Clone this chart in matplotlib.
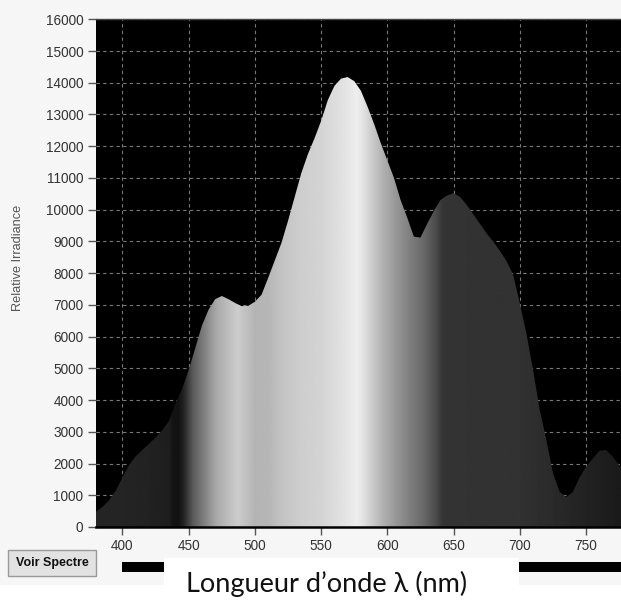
import numpy as np
import matplotlib
matplotlib.use('Agg')
import matplotlib.pyplot as plt
from matplotlib.patches import Rectangle, Polygon

plt.rcParams['font.family'] = ['Liberation Sans', 'DejaVu Sans']

# ---- data ----
wavelength = [380, 385, 390, 395, 400, 405, 410, 415, 420, 425, 430, 435, 440, 445,
              450, 455, 460, 465, 470, 475, 480, 485, 490, 495, 500, 505, 510, 515,
              520, 525, 530, 535, 540, 545, 550, 555, 560, 565, 570, 575, 580, 585,
              590, 595, 600, 605, 610, 615, 620, 625, 630, 635, 640, 645, 650, 655,
              660, 665, 670, 675, 680, 685, 690, 695, 700, 705, 710, 715, 720, 725,
              730, 735, 740, 745, 750, 755, 760, 765, 770, 775, 777]
irradiance = [480, 640, 850, 1150, 1560, 1950, 2230, 2430, 2620, 2820, 3050, 3330, 3900, 4350,
              4950, 5650, 6350, 6850, 7180, 7280, 7180, 7060, 6960, 6970, 7100, 7320, 7850, 8400,
              8950, 9650, 10400, 11150, 11750, 12250, 12800, 13450, 13900, 14130, 14180, 14050, 13750, 13250,
              12700, 12100, 11550, 11000, 10300, 9750, 9150, 9120, 9550, 9950, 10300, 10450, 10520, 10400,
              10150, 9850, 9550, 9250, 8990, 8700, 8380, 7950, 7050, 6100, 4950, 3700, 2750, 1700,
              1120, 940, 1100, 1550, 1900, 2150, 2400, 2430, 2230, 1950, 1850]

x_ticks = [400, 450, 500, 550, 600, 650, 700, 750]
y_ticks = list(range(0, 16001, 1000))

# grey shading of the spectrum fill, by wavelength
shade_wl = [380, 400, 420, 435, 438, 442, 446, 453, 462, 471, 480, 487, 492, 500, 510,
            520, 534, 550, 562, 572, 577, 581, 586, 597, 612, 627, 637, 642, 650, 700,
            720, 750, 777]
shade_gray = [38, 36, 34, 30, 20, 18, 35, 90, 130, 170, 190, 205, 195, 180, 182,
              195, 205, 212, 222, 232, 238, 228, 212, 176, 138, 106, 74, 52, 51, 50,
              44, 34, 26]

W, H = 621, 602
fig = plt.figure(figsize=(W / 100, H / 100), dpi=100)
fig.patch.set_facecolor('white')


def fx(x):
    return x / W


def fy(y):
    return 1 - y / H


# grey screen-capture background
fig.patches.append(Rectangle((0, fy(585)), 1, 1 - fy(585), transform=fig.transFigure,
                             facecolor='#f6f6f6', edgecolor='none', zorder=-5))

ax = fig.add_axes([fx(96), fy(527), 1 - fx(96), fy(19.3) - fy(527)])
ax.set_zorder(2)
ax.set_facecolor('black')

poly = ax.fill_between(wavelength, irradiance, 0, facecolor='none', edgecolor='none', zorder=2)
verts = poly.get_paths()[0].vertices
clip = Polygon(verts, closed=True, transform=ax.transData, facecolor='none', edgecolor='none')
ax.add_patch(clip)

fine = np.arange(wavelength[0], wavelength[-1] + 0.25, 0.5)
g = np.interp(fine, shade_wl, shade_gray)
img = ax.imshow(g[np.newaxis, :], cmap='gray', vmin=0, vmax=255,
                extent=[fine[0], fine[-1], 0, 16000], aspect='auto',
                interpolation='bilinear', zorder=2)
img.set_clip_path(clip)

ax.set_xlim(380, 776.4)
ax.set_ylim(0, 16000)
ax.set_xticks(x_ticks)
ax.set_yticks(y_ticks)
ax.grid(True, color='#7a7a7a', linestyle=(0, (3, 3)), linewidth=0.8)
ax.set_axisbelow(True)
ax.tick_params(direction='out', length=6, width=1, color='#555555', labelsize=9.8,
               labelcolor='#333333', pad=3)
for s in ['left', 'right']:
    ax.spines[s].set_visible(False)
ax.spines['top'].set_color('#444444')
ax.spines['top'].set_linewidth(1)
ax.spines['bottom'].set_color('black')
ax.spines['bottom'].set_linewidth(1.8)

fig.text(fx(18), fy(258), 'Relative Irradiance', rotation=90, ha='center', va='center',
         fontsize=9.2, color='#555555')

# button
fig.patches.append(Rectangle((fx(8), fy(576)), fx(96) - fx(8), fy(550) - fy(576),
                             transform=fig.transFigure, facecolor='#e2e2e2',
                             edgecolor='#9a9a9a', linewidth=1, zorder=1))
fig.text(fx(52), fy(563), 'Voir Spectre', ha='center', va='center', fontsize=9,
         fontweight='bold', color='#111111')

# black bar and white label box
fig.patches.append(Rectangle((fx(122), fy(572)), 1 - fx(122), fy(562) - fy(572),
                             transform=fig.transFigure, facecolor='black',
                             edgecolor='none', zorder=1))
fig.patches.append(Rectangle((fx(164), 0), fx(519) - fx(164), fy(558),
                             transform=fig.transFigure, facecolor='white',
                             edgecolor='none', zorder=1.5))
fig.text(fx(327), fy(584), 'Longueur d\u2019onde \u03bb (nm)', family=['Lato', 'DejaVu Sans'],
         fontsize=19.5, ha='center', va='center', color='#111111', zorder=3)

fig.savefig('out.png', dpi=100, facecolor=fig.get_facecolor())
